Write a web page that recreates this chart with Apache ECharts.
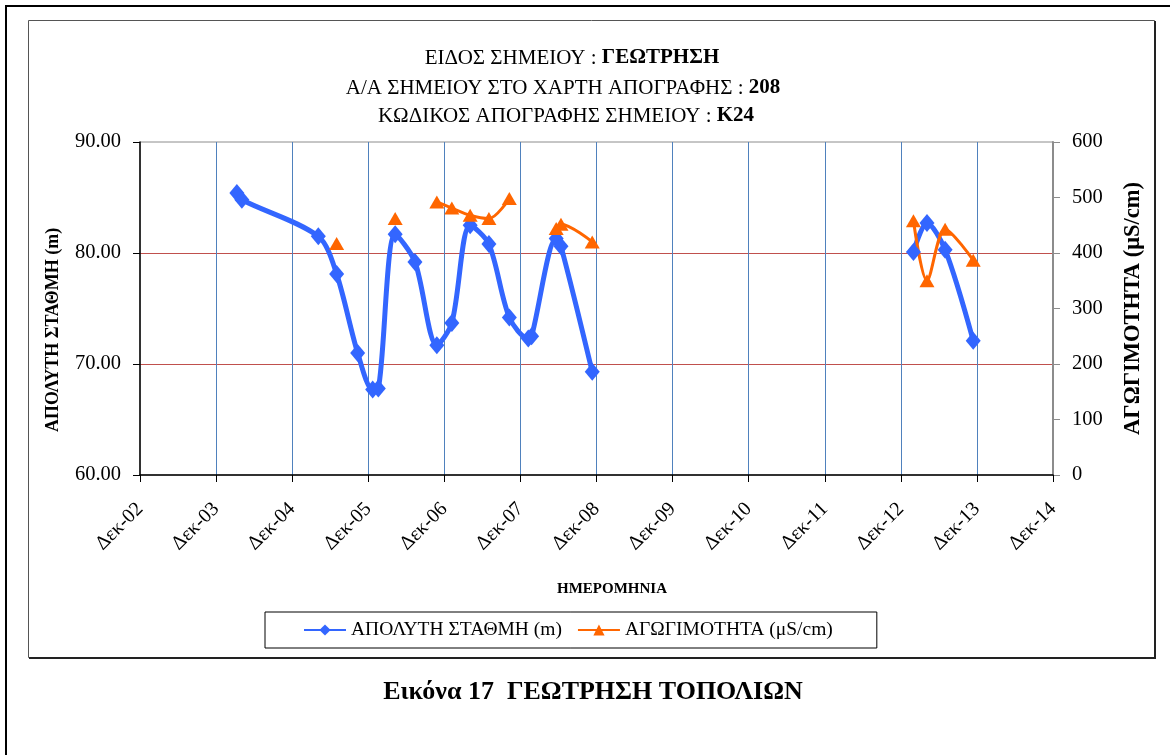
<!DOCTYPE html>
<html>
<head>
<meta charset="utf-8">
<script src="https://cdn.jsdelivr.net/npm/echarts@6/dist/echarts.min.js"></script>
<style>
  html, body { margin: 0; padding: 0; background: #fff; }
  #main { width: 1170px; height: 755px; }
</style>
</head>
<body>
<div id="main"></div>
<script>
// measurement dates (one row per date, null = no measurement)
var dates = ['2004-03-10', '2004-04-03', '2005-04-05', '2005-07-02', '2005-10-11', '2005-12-22',
  '2006-01-18', '2006-04-09', '2006-07-13', '2006-10-26', '2007-01-06', '2007-04-04',
  '2007-07-03', '2007-10-09', '2008-01-08', '2008-01-24', '2008-05-21', '2008-06-13',
  '2008-11-10', '2010-06-01', '2013-01-30', '2013-04-05', '2013-07-01', '2013-11-13'];
// ΑΠΟΛΥΤΗ ΣΤΑΘΜΗ (m)
var stathmi = [85.4, 84.8, 81.5, 78.1, 71.0, 67.7, 67.8, 81.7, 79.2, 71.7, 73.7, 82.5,
  80.8, 74.2, 72.3, 72.5, 81.3, 80.6, 69.3, null, 80.1, 82.7, 80.3, 72.1];
// ΑΓΩΓΙΜΟΤΗΤΑ (μS/cm)
var agogimotita = [null, null, null, 417, null, null, null, 462, null, 492, 481, 468,
  462, 498, null, null, 444, 452, 420, null, 458, 350, 443, 387];
var xTickLabels = ['Δεκ-02', 'Δεκ-03', 'Δεκ-04', 'Δεκ-05', 'Δεκ-06', 'Δεκ-07', 'Δεκ-08',
  'Δεκ-09', 'Δεκ-10', 'Δεκ-11', 'Δεκ-12', 'Δεκ-13', 'Δεκ-14'];

var origin = Date.parse('2002-12-01');
var yearMs = 365.25 * 86400000;
// years since Dec 2002 -> x axis units
function toX(d) {
  return (Date.parse(d) - origin) / yearMs;
}

var levelData = [], condData = [];
for (var i = 0; i < dates.length; i++) {
  levelData.push([toX(dates[i]), stathmi[i]]);
  condData.push([toX(dates[i]), agogimotita[i]]);
}

var serif = "'Liberation Serif', 'DejaVu Serif', serif";
var titleRich = {
  n: { fontFamily: serif, fontSize: 21, fill: '#000' },
  b: { fontFamily: serif, fontSize: 21, fontWeight: 'bold', fill: '#000' }
};
var myChart = echarts.init(document.getElementById('main'));

var option = {
  animation: false,
  backgroundColor: '#fff',
  textStyle: { fontFamily: serif, color: '#000' },
  grid: {
    left: 140, top: 142, width: 913, height: 333,
    show: true, borderColor: '#8c8c8c', borderWidth: 1, backgroundColor: 'transparent'
  },
  graphic: [
    // outer frame
    { type: 'rect', shape: { x: 6, y: 6, width: 1200, height: 800 }, style: { fill: 'none', stroke: '#000', lineWidth: 2 }, silent: true },
    // chart area frame
    { type: 'rect', shape: { x: 28.5, y: 20.5, width: 1126, height: 637 }, style: { fill: 'none', stroke: '#555', lineWidth: 1 }, silent: true },
    { type: 'polyline', shape: { points: [[1155, 21], [1155, 658], [29, 658]] }, style: { fill: 'none', stroke: '#222', lineWidth: 2 }, silent: true },
    // titles
    { type: 'text', x: 572, y: 58, style: { text: '{n|ΕΙΔΟΣ ΣΗΜΕΙΟΥ : }{b|ΓΕΩΤΡΗΣΗ}', align: 'center', verticalAlign: 'middle', rich: titleRich } },
    { type: 'text', x: 563, y: 88, style: { text: '{n|Α/Α ΣΗΜΕΙΟΥ ΣΤΟ ΧΑΡΤΗ ΑΠΟΓΡΑΦΗΣ : }{b|208}', align: 'center', verticalAlign: 'middle', rich: titleRich } },
    { type: 'text', x: 566, y: 116, style: { text: '{n|ΚΩΔΙΚΟΣ ΑΠΟΓΡΑΦΗΣ ΣΗΜΕΙΟΥ : }{b|Κ24}', align: 'center', verticalAlign: 'middle', rich: titleRich } },
    // left axis name
    {
      type: 'text', x: 53, y: 330, rotation: Math.PI / 2,
      style: { text: 'ΑΠΟΛΥΤΗ ΣΤΑΘΜΗ (m)', align: 'center', verticalAlign: 'middle', fontFamily: serif, fontSize: 18, fontWeight: 'bold', fill: '#000' }
    },
    // x axis name
    {
      type: 'text', x: 612, y: 589,
      style: { text: 'ΗΜΕΡΟΜΗΝΙΑ', align: 'center', verticalAlign: 'middle', fontFamily: serif, fontSize: 15, fontWeight: 'bold', fill: '#000' }
    },
    // caption
    {
      type: 'text', x: 593, y: 692,
      style: { text: 'Εικόνα 17  ΓΕΩΤΡΗΣΗ ΤΟΠΟΛΙΩΝ', align: 'center', verticalAlign: 'middle', fontFamily: serif, fontSize: 26, fontWeight: 'bold', fill: '#000' }
    }
  ],
  legend: {
    left: 265, top: 612,
    padding: [8, 44, 8, 38],
    itemGap: 15,
    itemWidth: 42,
    itemHeight: 14,
    borderColor: '#000',
    borderWidth: 1,
    textStyle: { fontFamily: serif, fontSize: 19.5, color: '#000' },
    data: ['ΑΠΟΛΥΤΗ ΣΤΑΘΜΗ (m)', 'ΑΓΩΓΙΜΟΤΗΤΑ (μS/cm)']
  },
  xAxis: {
    type: 'value', min: 0, max: 12, interval: 1,
    axisLine: { lineStyle: { color: '#000', width: 1.5 } },
    axisTick: { show: true, length: 7, lineStyle: { color: '#000' } },
    axisLabel: {
      rotate: 45, margin: 31, fontFamily: serif, fontSize: 20, color: '#000',
      formatter: function(v) { return xTickLabels[Math.round(v)]; }
    },
    splitLine: { show: true, showMinLine: false, showMaxLine: false, lineStyle: { color: '#4f81bd', width: 1 } }
  },
  yAxis: [
    {
      type: 'value', min: 60, max: 90, interval: 10, position: 'left',
      axisLine: { show: true, lineStyle: { color: '#000', width: 1.5 } },
      axisTick: { show: true, length: 7, lineStyle: { color: '#000' } },
      axisLabel: {
        margin: 19, fontFamily: serif, fontSize: 20.5, color: '#000',
        formatter: function(v) { return v.toFixed(2); }
      },
      splitLine: { show: true, showMinLine: false, showMaxLine: false, lineStyle: { color: '#c0504d', width: 1 } }
    },
    {
      type: 'value', min: 0, max: 600, interval: 100, position: 'right',
      name: 'ΑΓΩΓΙΜΟΤΗΤΑ (μS/cm)', nameLocation: 'middle', nameRotate: 90, nameGap: 69,
      nameTextStyle: { fontFamily: serif, fontSize: 22.5, fontWeight: 'bold', color: '#000' },
      axisLine: { show: true, lineStyle: { color: '#8c8c8c', width: 2 } },
      axisTick: { show: true, length: 7, lineStyle: { color: '#8c8c8c' } },
      axisLabel: { margin: 19, fontFamily: serif, fontSize: 20.5, color: '#000' },
      splitLine: { show: false }
    }
  ],
  series: [
    {
      name: 'ΑΠΟΛΥΤΗ ΣΤΑΘΜΗ (m)',
      type: 'line',
      yAxisIndex: 0,
      data: levelData,
      smooth: 0.3,
      connectNulls: false,
      symbol: 'diamond',
      symbolSize: [15, 18],
      showAllSymbol: true,
      lineStyle: { color: '#3366ff', width: 5 },
      itemStyle: { color: '#3366ff' }
    },
    {
      name: 'ΑΓΩΓΙΜΟΤΗΤΑ (μS/cm)',
      type: 'line',
      yAxisIndex: 1,
      data: condData,
      smooth: 0.3,
      connectNulls: false,
      symbol: 'triangle',
      symbolSize: [15, 13],
      showAllSymbol: true,
      lineStyle: { color: '#ff6600', width: 3 },
      itemStyle: { color: '#ff6600' }
    }
  ]
};

myChart.setOption(option);
window.addEventListener('resize', function() {
  myChart.resize();
});
</script>
</body>
</html>
